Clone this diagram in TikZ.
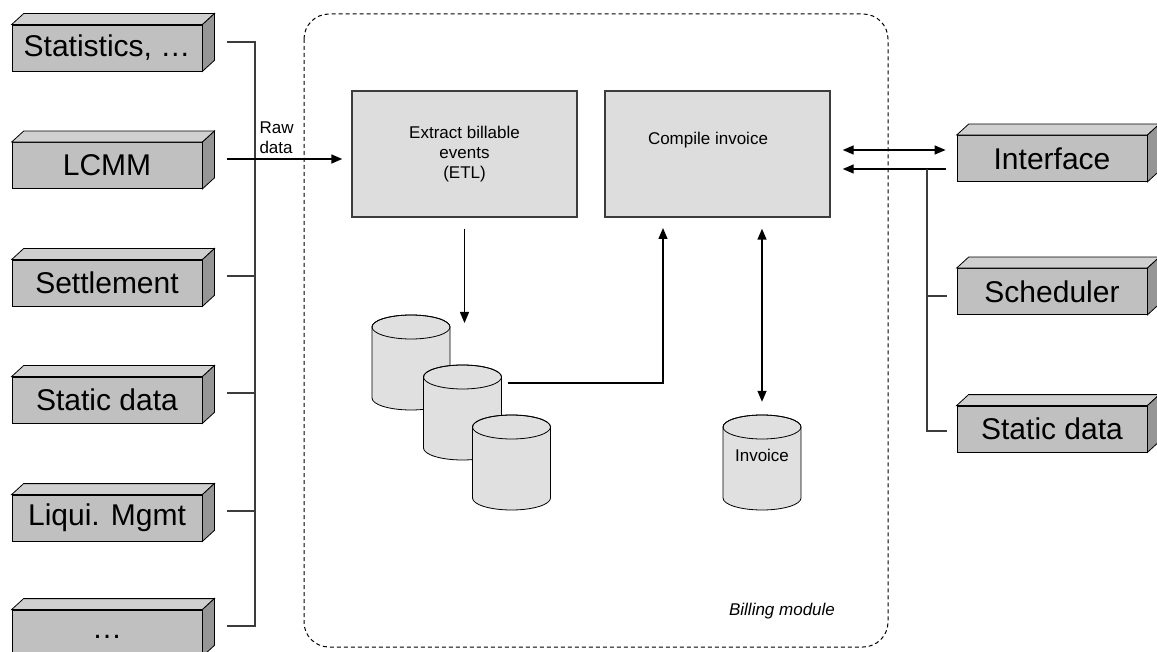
\documentclass[tikz,border=0pt]{standalone}
\usepackage{fontspec}
\setmainfont{Liberation Sans}
\usepackage{xcolor}
\usetikzlibrary{positioning, calc, arrows.meta}

\definecolor{frontgray}{RGB}{192,192,192}
\definecolor{topgray}{RGB}{208,208,208}
\definecolor{sidegray}{RGB}{150,150,150}
\definecolor{procgray}{RGB}{221,221,221}
\definecolor{dbgray}{RGB}{224,224,224}
\definecolor{linegray}{RGB}{60,60,60}

% 3D system box: name, x, y, text
\newcommand{\sysbox}[4]{%
  \node[sysunit] (#1) at (#2,#3) {#4};
  \filldraw[fill=topgray, draw=black, line width=0.8pt]
    (#1.north west) -- ([shift={(12pt,11pt)}]#1.north west)
    -- ([shift={(12pt,11pt)}]#1.north east) -- (#1.north east) -- cycle;
  \filldraw[fill=sidegray, draw=black, line width=0.8pt]
    (#1.north east) -- ([shift={(12pt,11pt)}]#1.north east)
    -- ([shift={(12pt,11pt)}]#1.south east) -- (#1.south east) -- cycle;
}

% database cylinder: name, centre x, top y
\newcommand{\dbcyl}[3]{%
  \node[dbbody] (#1) at (#2,#3+35.5) {};
  \filldraw[fill=dbgray, draw=black, line width=0.8pt]
    (#2-39,#3) -- (#2-39,#3+71) arc (180:0:39 and 12)
    -- (#2+39,#3) arc (0:-180:39 and 12) -- cycle;
  \draw[line width=0.8pt] (#2,#3) ellipse (39 and 12);
}

\begin{document}
\begin{tikzpicture}[x=1pt, y=-1pt,
  sysunit/.style={draw=black, line width=0.8pt, fill=frontgray,
    minimum width=190pt, minimum height=46pt, inner sep=0pt,
    font=\fontsize{30}{33}\selectfont},
  process/.style={draw=linegray, line width=1.4pt, fill=procgray,
    minimum width=225pt, minimum height=126pt, inner sep=0pt,
    align=center, font=\fontsize{17}{20}\selectfont},
  dbbody/.style={minimum width=78pt, minimum height=95pt, inner sep=0pt},
  small/.style={font=\fontsize{17}{20}\selectfont},
  bus/.style={draw=linegray, line width=1.3pt},
  flow/.style={draw=black, line width=1.4pt,
    -{Triangle[length=11pt,width=9pt]}},
  flowboth/.style={draw=black, line width=1.4pt,
    {Triangle[length=11pt,width=9pt]}-{Triangle[length=11pt,width=9pt]}}]

  \useasboundingbox (0,0) rectangle (1157,652);

  % Billing module frame
  \draw[black, line width=1pt, dash pattern=on 4pt off 3pt,
    rounded corners=25pt] (304,14) rectangle (888,647);
  \node[small, font=\fontsize{17}{20}\selectfont\itshape] (billing) at (782,611) {Billing module};

  % Source systems
  \sysbox{stat}{107}{48}{Statistics, …}
  \sysbox{lcmm}{107}{165.5}{LCMM}
  \sysbox{settle}{107}{283}{Settlement}
  \sysbox{static}{107}{400}{Static data}
  \sysbox{liqui}{107}{518}{Liqui. Mgmt}
  \sysbox{more}{107}{633}{\raisebox{-10pt}{…}}

  % Target systems
  \sysbox{iface}{1052}{158.5}{Interface}
  \sysbox{sched}{1052}{291.5}{Scheduler}
  \sysbox{statictwo}{1052}{429}{Static data}

  % Processing steps
  \node[process] (extract) at (464.5,154) {Extract billable\\events\\(ETL)};
  \node[process] (compile) at (717.5,154) {};
  \node[small] (compiletext) at (708,140) {Compile invoice};

  % Data stores
  \dbcyl{dbone}{411}{327}
  \dbcyl{dbtwo}{462.5}{377}
  \dbcyl{dbthree}{511.5}{427}
  \dbcyl{invoice}{762}{427}
  \node[small] (invoicetext) at (762,455) {Invoice};

  % Left bus
  \coordinate (lbus) at (255,300);
  \draw[bus] ([xshift=25pt,yshift=6pt]stat.east) -| (lbus)
    |- ([xshift=25pt,yshift=7pt]more.east);
  \foreach \n in {settle,static,liqui}
    \draw[bus] ([xshift=25pt,yshift=7pt]\n.east) -- ++(28pt,0pt);
  \coordinate (rawstart) at ([xshift=25pt,yshift=6.5pt]lcmm.east);
  \draw[flow, shorten >=9pt] (rawstart) -- (rawstart -| extract.west);
  \node[small, align=left, anchor=west] (rawlabel) at (256,138) {Raw\\data};

  % Inside the module
  \coordinate (dbin) at (464.5,323);
  \draw[flow] ([yshift=-11pt]extract.south) -- (dbin);
  \coordinate (tocompile) at (663,228);
  \draw[flow] ([xshift=6pt,yshift=29.5pt]dbtwo.east) -| (tocompile);
  \draw[flowboth] ([yshift=-11pt]compile.south -| invoice.north)
    -- ([yshift=13pt]invoice.north);

  % Right side
  \coordinate (ifa) at ([xshift=-11pt,yshift=8.5pt]iface.west);
  \coordinate (ifb) at ([xshift=-11pt,yshift=-10.5pt]iface.west);
  \draw[flowboth, shorten >=12pt] (ifa) -- (ifa -| compile.east);
  \draw[flow, shorten >=12pt] (ifb) -- (ifb -| compile.east);
  \coordinate (rbus) at (927,300);
  \draw[bus] (ifb -| rbus) |- ([xshift=-10pt,yshift=-2pt]statictwo.west);
  \draw[bus] ([xshift=-10pt,yshift=-4.5pt]sched.west) -- ++(-20pt,0pt);
\end{tikzpicture}
\end{document}
